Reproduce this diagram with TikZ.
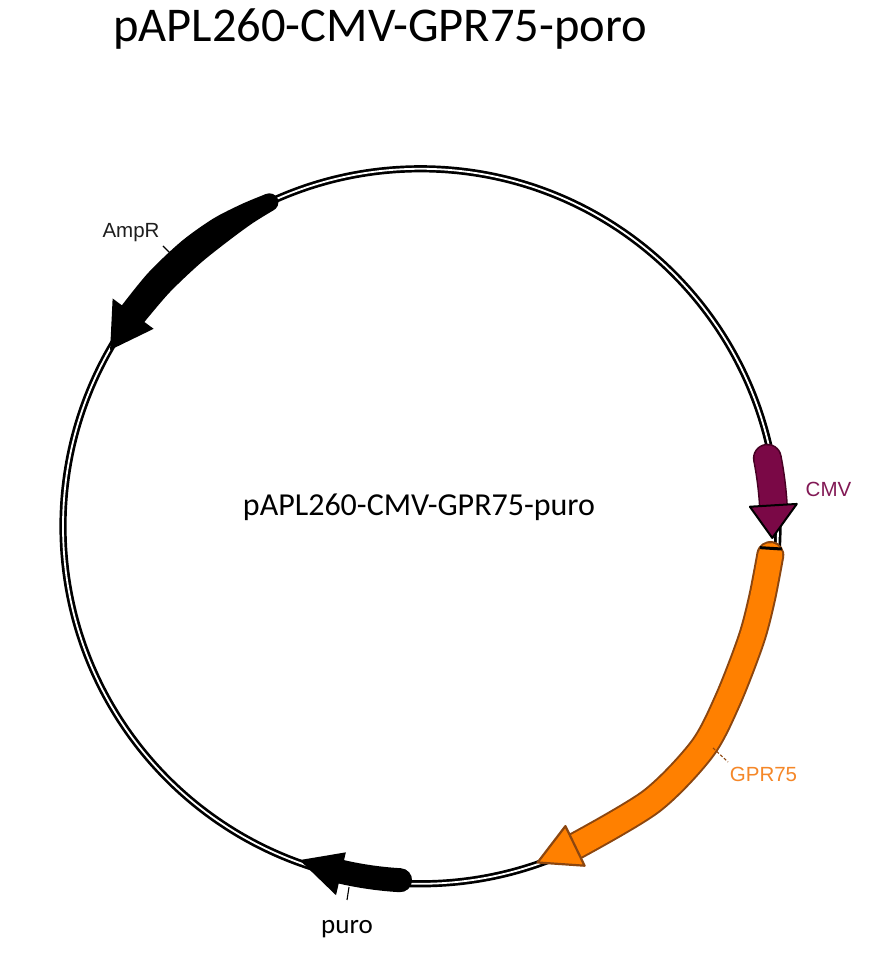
\documentclass[tikz,border=0pt]{standalone}
\usepackage{fontspec}
\setmainfont{Carlito}
\newfontfamily\arialfont{Liberation Sans}
\definecolor{cmvfill}{RGB}{122,8,70}
\definecolor{cmvline}{RGB}{70,0,35}
\definecolor{cmvtext}{RGB}{130,25,85}
\definecolor{gprfill}{RGB}{255,128,0}
\definecolor{gprline}{RGB}{140,70,15}
\definecolor{gprtext}{RGB}{245,135,40}
\definecolor{amptext}{RGB}{30,30,30}
\begin{document}
\begin{tikzpicture}[x=1pt,y=1pt,
  featlabel/.style={font=\arialfont\fontsize{20.5}{24}\selectfont, anchor=base, inner sep=0pt},
  leader/.style={line width=1.1pt}]
\useasboundingbox (0,0) rectangle (877,977);
\fill[white] (0,0) rectangle (877,977);
\begin{scope}[shift={(420.5,450.7)}]
  % backbone
  \draw[black, line width=7.2pt] (0,0) circle[radius=357.5pt];
  \draw[white, line width=1.8pt] (0,0) circle[radius=357.5pt];
  % AmpR
  \fill[black] plot[smooth] coordinates {(115:366.5) (119:368.5) (124:371) (130:372) (137:372) (143.5:371.5)}
     -- (143.5:383) -- (150.4:357) -- (143.5:332)
     -- plot[smooth] coordinates {(143.5:343.5) (137:343) (130:343) (124:344) (119:346.5) (115:348.5)} -- cycle;
  \fill[black] (115:357.5) circle[radius=9pt];
  % puro
  \draw[black, line width=24pt, line cap=round] (-93.3:354.5) arc[start angle=-93.3, end angle=-102.9, radius=354.5pt];
  \fill[black] (-102.9:378.5) -- (-109.9:355) -- (-102.9:334.5) -- cycle;
  % CMV
  \draw[cmvline, line width=29pt, line cap=round] (11.1:353.5) arc[start angle=11.1, end angle=3.4, radius=353.5pt];
  \draw[cmvfill, line width=26pt, line cap=round] (11.1:353.5) arc[start angle=11.1, end angle=3.4, radius=353.5pt];
  \filldraw[fill=cmvfill, draw=black, line width=2pt, line join=round] (3.4:377) -- (-1.9:352) -- (3.4:330) -- cycle;
  % GPR75
  \draw[gprline, line width=28pt, line cap=round] plot[smooth] coordinates {(-4.7:351) (-12:349) (-19:349.5) (-29.5:353) (-38.4:359) (-50:359) (-64.2:355.5)};
  \draw[gprfill, line width=24pt, line cap=round] plot[smooth] coordinates {(-4.7:351) (-12:349) (-19:349.5) (-29.5:353) (-38.4:359) (-50:359) (-64.2:355.5)};
  \filldraw[fill=gprfill, draw=gprline, line width=2.2pt, line join=round] (-64.2:377) -- (-70.8:356) -- (-64.2:333) -- cycle;
  \draw[black, line width=3pt] (-3.6:340) -- (-3.6:362);
\end{scope}
% labels
\node[font=\fontsize{48.5}{58}\selectfont, anchor=base, inner sep=0pt] (title) at (380,935) {pAPL260-CMV-GPR75-poro};
\node[font=\fontsize{32}{38}\selectfont, anchor=base, inner sep=0pt] (name) at (419,461.3) {pAPL260-CMV-GPR75-puro};
\node[featlabel, text=amptext] (amplabel) at (131,739) {AmpR};
\node[featlabel, text=cmvtext] (cmvlabel) at (828.5,480) {CMV};
\node[featlabel, text=gprtext] (gprlabel) at (763.5,195) {GPR75};
\node[font=\fontsize{27}{32}\selectfont, anchor=base, inner sep=0pt] (purolabel) at (347,43) {puro};
% leaders
\coordinate (ampA) at (163,731); \coordinate (ampB) at (170,724);
\draw[leader, black] (ampA) -- (ampB);
\coordinate (gprA) at (713,229); \coordinate (gprB) at (728,215);
\draw[leader, gprline, dash pattern=on 3pt off 2pt] (gprA) -- (gprB);
\coordinate (puroA) at (349,90); \coordinate (puroB) at (347,77);
\draw[leader, black] (puroA) -- (puroB);
\end{tikzpicture}
\end{document}
